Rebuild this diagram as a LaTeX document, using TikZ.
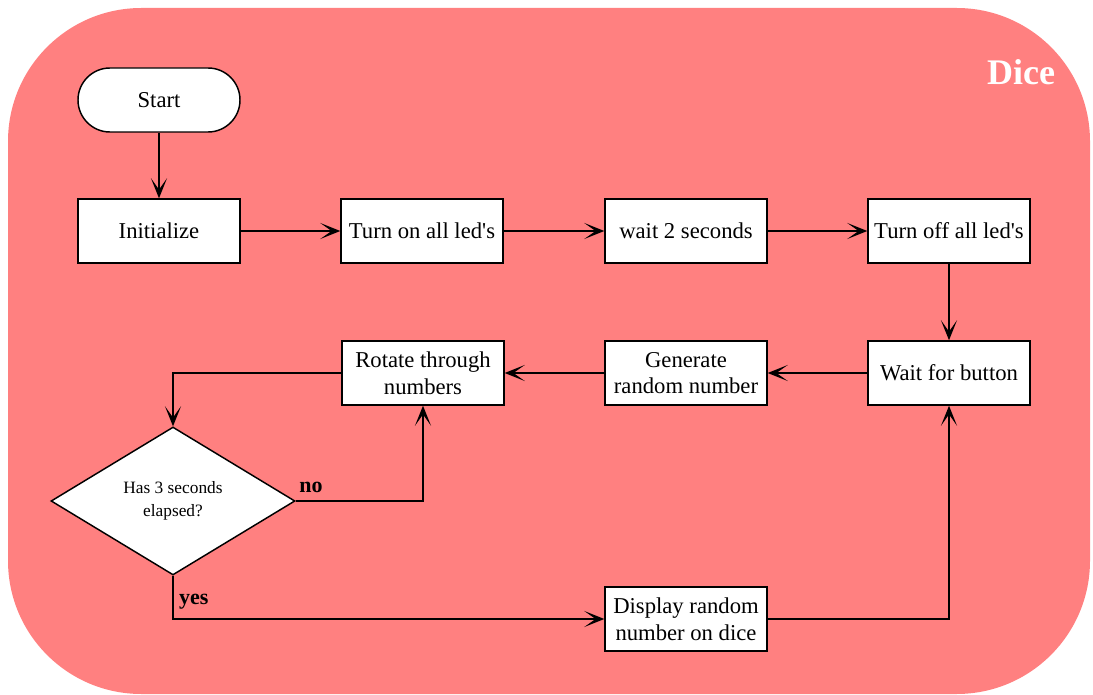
\documentclass[tikz,border=0pt]{standalone}
\usepackage{fontspec}
\setmainfont{Liberation Serif}
\usetikzlibrary{shapes.geometric,arrows.meta}
\definecolor{bgred}{HTML}{FF8080}
\tikzset{
  box/.style={draw=black, line width=1.1pt, fill=white, minimum width=121.5pt, minimum height=48pt, inner sep=1pt, align=center, font=\fontsize{17}{20}\selectfont},
  startbox/.style={box, rounded corners=24pt},
  decision/.style={draw=black, line width=1.1pt, fill=white, diamond, minimum width=183pt, minimum height=111pt, inner sep=0pt, align=center, font=\fontsize{13}{17}\selectfont},
  arr/.style={draw=black, line width=1.1pt, -{Stealth[length=15pt, width=12pt, inset=8.5pt]}},
  lbl/.style={font=\fontsize{16.5}{19}\selectfont\bfseries, inner sep=0pt},
}
\begin{document}
\begin{tikzpicture}[x=0.75pt, y=-0.75pt]
\useasboundingbox (0,0) rectangle (1093,695);
\fill[bgred, rounded corners=100pt] (8,8) rectangle (1090,694);
\node[font=\fontsize{27}{32}\selectfont\bfseries, text=white] (title) at (1021,72) {Dice};
\node[startbox] (start) at (159,100) {Start};
\node[box] (init) at (159,231) {Initialize};
\node[box] (ton) at (422,231) {Turn on all led\textquotesingle s};
\node[box] (wait2) at (686,231) {wait 2 seconds};
\node[box] (toff) at (949,231) {Turn off all led\textquotesingle s};
\node[box] (wbtn) at (949,373) {Wait for button};
\node[box] (gen) at (686,373) {Generate\\random number};
\node[box] (rot) at (423,373) {Rotate through\\numbers};
\node[decision] (dec) at (173,501) {Has 3 seconds\\elapsed?};
\node[box] (disp) at (686,619) {Display random\\number on dice};
\draw[arr] (start) -- (init);
\draw[arr] (init) -- (ton);
\draw[arr] (ton) -- (wait2);
\draw[arr] (wait2) -- (toff);
\draw[arr] (toff) -- (wbtn);
\draw[arr] (wbtn) -- (gen);
\draw[arr] (gen) -- (rot);
\draw[arr] (rot.west) -| (dec.north);
\draw[arr] (dec.east) -| node[lbl, pos=0.06, above=6pt] (nolbl) {no} (rot.south);
\draw[arr] (dec.south) |- node[lbl, pos=0.3, right=4pt] (yeslbl) {yes} (disp.west);
\draw[arr] (disp.east) -| (wbtn.south);
\end{tikzpicture}
\end{document}
